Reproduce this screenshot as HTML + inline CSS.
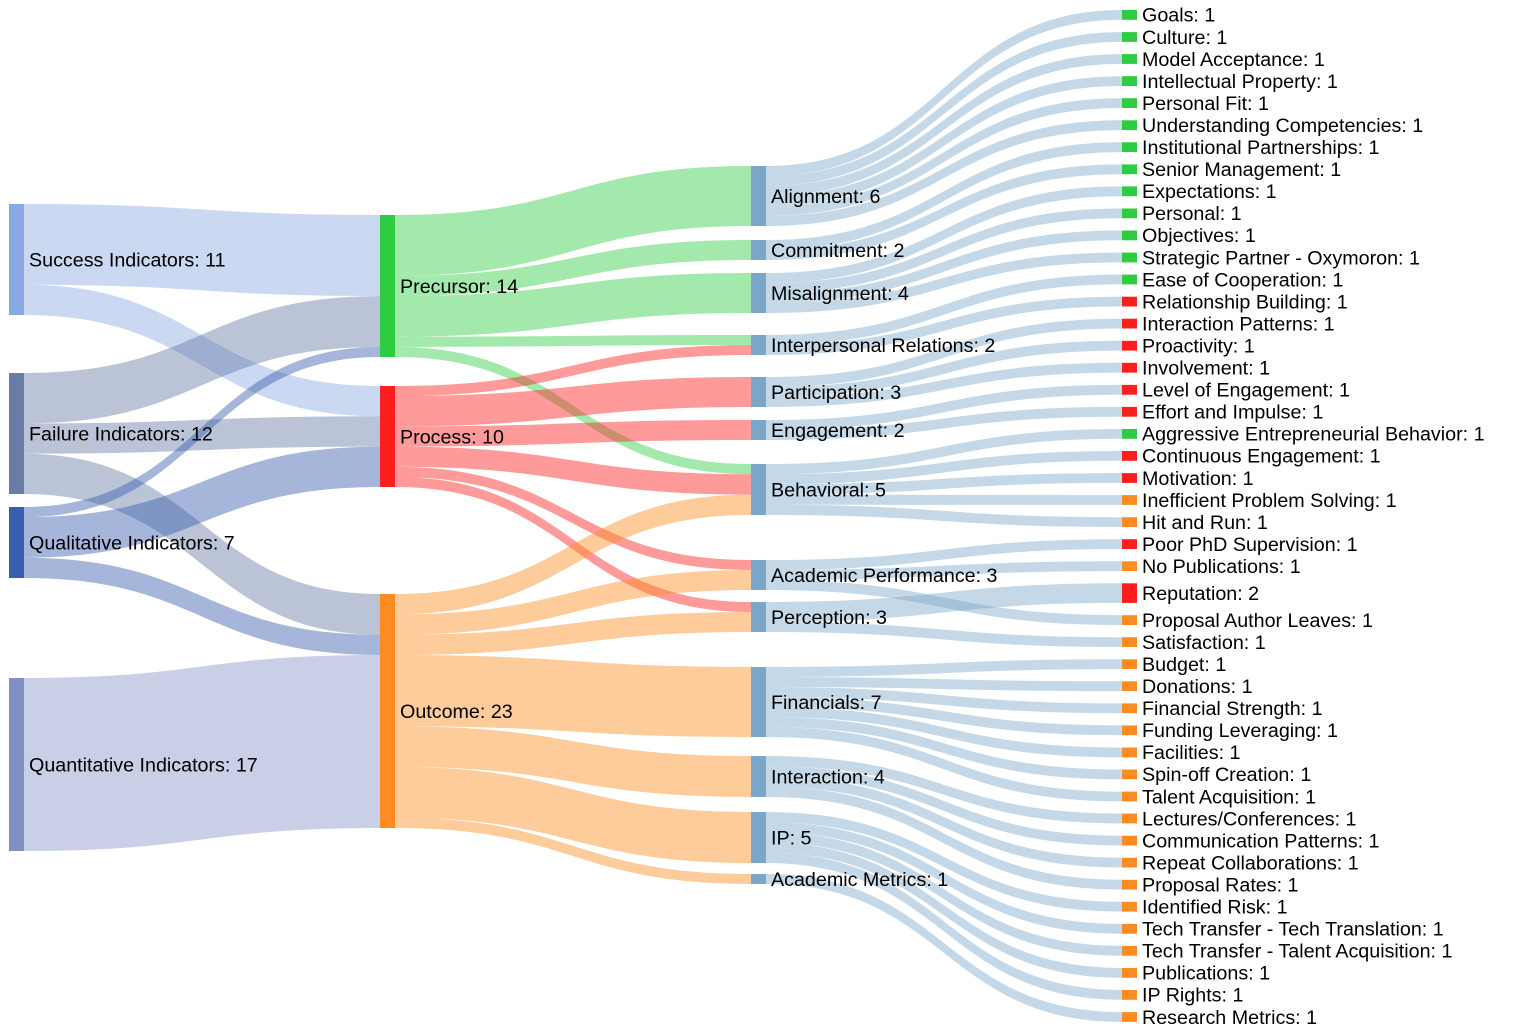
<!DOCTYPE html>
<html>
<head>
<meta charset="utf-8">
<style>
html,body{margin:0;padding:0;background:#fff;}
svg{display:block;}
text{font-family:"Liberation Sans",Arial,sans-serif;font-size:19.7px;fill:#000;}
</style>
</head>
<body>
<svg width="1516" height="1032" viewBox="0 0 1516 1032" xmlns="http://www.w3.org/2000/svg">
<rect width="1516" height="1032" fill="#fff"/>
<!-- Column 1 -> Column 2 links -->
<g>
<path fill="rgba(138,168,227,0.45)" d="M24 204C202 204 202 215 380 215L380 296.1C202 296.1 202 284.7 24 284.7Z"/>
<path fill="rgba(138,168,227,0.45)" d="M24 284.7C202 284.7 202 386 380 386L380 416.3C202 416.3 202 315 24 315Z"/>
<path fill="rgba(104,124,166,0.45)" d="M24 373C202 373 202 296.1 380 296.1L380 346.9C202 346.9 202 423.4 24 423.4Z"/>
<path fill="rgba(104,124,166,0.45)" d="M24 423.4C202 423.4 202 416.3 380 416.3L380 446.6C202 446.6 202 453.7 24 453.7Z"/>
<path fill="rgba(104,124,166,0.45)" d="M24 453.7C202 453.7 202 594 380 594L380 634.7C202 634.7 202 494 24 494Z"/>
<path fill="rgba(56,94,173,0.45)" d="M24 507C202 507 202 346.9 380 346.9L380 357C202 357 202 517.1 24 517.1Z"/>
<path fill="rgba(56,94,173,0.45)" d="M24 517.1C202 517.1 202 446.6 380 446.6L380 487C202 487 202 557.7 24 557.7Z"/>
<path fill="rgba(56,94,173,0.45)" d="M24 557.7C202 557.7 202 634.7 380 634.7L380 655C202 655 202 578 24 578Z"/>
<path fill="rgba(128,144,196,0.43)" d="M24 678C202 678 202 655 380 655L380 828C202 828 202 851 24 851Z"/>
</g>
<!-- Column 2 -> Column 3 links -->
<g>
<path fill="rgba(46,204,64,0.44)" d="M395 215C573 215 573 166 751 166L751 226C573 226 573 275.9 395 275.9Z"/>
<path fill="rgba(46,204,64,0.44)" d="M395 275.9C573 275.9 573 240 751 240L751 260C573 260 573 296.1 395 296.1Z"/>
<path fill="rgba(46,204,64,0.44)" d="M395 296.1C573 296.1 573 273 751 273L751 313C573 313 573 336.7 395 336.7Z"/>
<path fill="rgba(46,204,64,0.44)" d="M395 336.7C573 336.7 573 335 751 335L751 345C573 345 573 346.9 395 346.9Z"/>
<path fill="rgba(46,204,64,0.44)" d="M395 346.9C573 346.9 573 464 751 464L751 474.2C573 474.2 573 357 395 357Z"/>
<path fill="rgba(255,30,30,0.45)" d="M395 386C573 386 573 345 751 345L751 355C573 355 573 396.1 395 396.1Z"/>
<path fill="rgba(255,30,30,0.45)" d="M395 396.1C573 396.1 573 377 751 377L751 407C573 407 573 426.4 395 426.4Z"/>
<path fill="rgba(255,30,30,0.45)" d="M395 426.4C573 426.4 573 420 751 420L751 440C573 440 573 446.6 395 446.6Z"/>
<path fill="rgba(255,30,30,0.45)" d="M395 446.6C573 446.6 573 474.2 751 474.2L751 494.6C573 494.6 573 466.8 395 466.8Z"/>
<path fill="rgba(255,30,30,0.45)" d="M395 466.8C573 466.8 573 560 751 560L751 570C573 570 573 476.9 395 476.9Z"/>
<path fill="rgba(255,30,30,0.45)" d="M395 476.9C573 476.9 573 602 751 602L751 612C573 612 573 487 395 487Z"/>
<path fill="rgba(253,139,33,0.45)" d="M395 594C573 594 573 494.6 751 494.6L751 515C573 515 573 614.3 395 614.3Z"/>
<path fill="rgba(253,139,33,0.45)" d="M395 614.3C573 614.3 573 570 751 570L751 590C573 590 573 634.7 395 634.7Z"/>
<path fill="rgba(253,139,33,0.45)" d="M395 634.7C573 634.7 573 612 751 612L751 632C573 632 573 655 395 655Z"/>
<path fill="rgba(253,139,33,0.45)" d="M395 655C573 655 573 667 751 667L751 737C573 737 573 726.2 395 726.2Z"/>
<path fill="rgba(253,139,33,0.45)" d="M395 726.2C573 726.2 573 756 751 756L751 797C573 797 573 766.9 395 766.9Z"/>
<path fill="rgba(253,139,33,0.45)" d="M395 766.9C573 766.9 573 812 751 812L751 863C573 863 573 817.8 395 817.8Z"/>
<path fill="rgba(253,139,33,0.45)" d="M395 817.8C573 817.8 573 874 751 874L751 884C573 884 573 828 395 828Z"/>
</g>
<!-- Column 3 -> Column 4 links -->
<g fill="rgba(123,166,200,0.44)">
<path d="M766 166C944 166 944 10 1122 10L1122 19.8C944 19.8 944 176 766 176Z"/>
<path d="M766 176C944 176 944 32.1 1122 32.1L1122 41.9C944 41.9 944 186 766 186Z"/>
<path d="M766 186C944 186 944 54.1 1122 54.1L1122 63.9C944 63.9 944 196 766 196Z"/>
<path d="M766 196C944 196 944 76.2 1122 76.2L1122 86C944 86 944 206 766 206Z"/>
<path d="M766 206C944 206 944 98.2 1122 98.2L1122 108C944 108 944 216 766 216Z"/>
<path d="M766 216C944 216 944 120.3 1122 120.3L1122 130.1C944 130.1 944 226 766 226Z"/>
<path d="M766 240C944 240 944 142.3 1122 142.3L1122 152.1C944 152.1 944 250 766 250Z"/>
<path d="M766 250C944 250 944 164.4 1122 164.4L1122 174.2C944 174.2 944 260 766 260Z"/>
<path d="M766 273C944 273 944 186.4 1122 186.4L1122 196.2C944 196.2 944 283 766 283Z"/>
<path d="M766 283C944 283 944 208.5 1122 208.5L1122 218.3C944 218.3 944 293 766 293Z"/>
<path d="M766 293C944 293 944 230.5 1122 230.5L1122 240.3C944 240.3 944 303 766 303Z"/>
<path d="M766 303C944 303 944 252.6 1122 252.6L1122 262.4C944 262.4 944 313 766 313Z"/>
<path d="M766 335C944 335 944 274.6 1122 274.6L1122 284.4C944 284.4 944 345 766 345Z"/>
<path d="M766 345C944 345 944 296.7 1122 296.7L1122 306.5C944 306.5 944 355 766 355Z"/>
<path d="M766 377C944 377 944 318.7 1122 318.7L1122 328.5C944 328.5 944 387 766 387Z"/>
<path d="M766 387C944 387 944 340.8 1122 340.8L1122 350.6C944 350.6 944 397 766 397Z"/>
<path d="M766 397C944 397 944 362.8 1122 362.8L1122 372.6C944 372.6 944 407 766 407Z"/>
<path d="M766 420C944 420 944 384.9 1122 384.9L1122 394.7C944 394.7 944 430 766 430Z"/>
<path d="M766 430C944 430 944 406.9 1122 406.9L1122 416.7C944 416.7 944 440 766 440Z"/>
<path d="M766 464C944 464 944 429 1122 429L1122 438.8C944 438.8 944 474.2 766 474.2Z"/>
<path d="M766 474.2C944 474.2 944 451 1122 451L1122 460.8C944 460.8 944 484.4 766 484.4Z"/>
<path d="M766 484.4C944 484.4 944 473.1 1122 473.1L1122 482.9C944 482.9 944 494.6 766 494.6Z"/>
<path d="M766 494.6C944 494.6 944 495.1 1122 495.1L1122 504.9C944 504.9 944 504.8 766 504.8Z"/>
<path d="M766 504.8C944 504.8 944 517.2 1122 517.2L1122 527C944 527 944 515 766 515Z"/>
<path d="M766 560C944 560 944 539.2 1122 539.2L1122 549C944 549 944 570 766 570Z"/>
<path d="M766 570C944 570 944 561.3 1122 561.3L1122 571.1C944 571.1 944 580 766 580Z"/>
<path d="M766 580C944 580 944 615.2 1122 615.2L1122 625C944 625 944 590 766 590Z"/>
<path d="M766 602C944 602 944 583.3 1122 583.3L1122 602.9C944 602.9 944 622 766 622Z"/>
<path d="M766 622C944 622 944 637.2 1122 637.2L1122 647C944 647 944 632 766 632Z"/>
<path d="M766 667C944 667 944 659.3 1122 659.3L1122 669.1C944 669.1 944 677 766 677Z"/>
<path d="M766 677C944 677 944 681.3 1122 681.3L1122 691.1C944 691.1 944 687 766 687Z"/>
<path d="M766 687C944 687 944 703.4 1122 703.4L1122 713.2C944 713.2 944 697 766 697Z"/>
<path d="M766 697C944 697 944 725.4 1122 725.4L1122 735.2C944 735.2 944 707 766 707Z"/>
<path d="M766 707C944 707 944 747.5 1122 747.5L1122 757.3C944 757.3 944 717 766 717Z"/>
<path d="M766 717C944 717 944 769.5 1122 769.5L1122 779.3C944 779.3 944 727 766 727Z"/>
<path d="M766 727C944 727 944 791.6 1122 791.6L1122 801.4C944 801.4 944 737 766 737Z"/>
<path d="M766 756C944 756 944 813.6 1122 813.6L1122 823.4C944 823.4 944 766.3 766 766.3Z"/>
<path d="M766 766.3C944 766.3 944 835.7 1122 835.7L1122 845.5C944 845.5 944 776.5 766 776.5Z"/>
<path d="M766 776.5C944 776.5 944 857.7 1122 857.7L1122 867.5C944 867.5 944 786.8 766 786.8Z"/>
<path d="M766 786.8C944 786.8 944 879.8 1122 879.8L1122 889.6C944 889.6 944 797 766 797Z"/>
<path d="M766 812C944 812 944 901.8 1122 901.8L1122 911.6C944 911.6 944 822.2 766 822.2Z"/>
<path d="M766 822.2C944 822.2 944 923.9 1122 923.9L1122 933.7C944 933.7 944 832.4 766 832.4Z"/>
<path d="M766 832.4C944 832.4 944 945.9 1122 945.9L1122 955.7C944 955.7 944 842.6 766 842.6Z"/>
<path d="M766 842.6C944 842.6 944 968 1122 968L1122 977.8C944 977.8 944 852.8 766 852.8Z"/>
<path d="M766 852.8C944 852.8 944 990 1122 990L1122 999.8C944 999.8 944 863 766 863Z"/>
<path d="M766 874C944 874 944 1012.1 1122 1012.1L1122 1021.9C944 1021.9 944 884 766 884Z"/>
</g>
<!-- Column 1 nodes -->
<rect x="9" y="204" width="15" height="111" fill="#8aa8e3"/>
<rect x="9" y="373" width="15" height="121" fill="#687ca6"/>
<rect x="9" y="507" width="15" height="71" fill="#385ead"/>
<rect x="9" y="678" width="15" height="173" fill="#8090c4"/>
<!-- Column 2 nodes -->
<rect x="380" y="215" width="15" height="142" fill="#2ecc40"/>
<rect x="380" y="386" width="15" height="101" fill="#ff1e1e"/>
<rect x="380" y="594" width="15" height="234" fill="#fd8b21"/>
<!-- Column 3 nodes -->
<g fill="#7ba6c8">
<rect x="751" y="166" width="15" height="60"/>
<rect x="751" y="240" width="15" height="20"/>
<rect x="751" y="273" width="15" height="40"/>
<rect x="751" y="335" width="15" height="20"/>
<rect x="751" y="377" width="15" height="30"/>
<rect x="751" y="420" width="15" height="20"/>
<rect x="751" y="464" width="15" height="51"/>
<rect x="751" y="560" width="15" height="30"/>
<rect x="751" y="602" width="15" height="30"/>
<rect x="751" y="667" width="15" height="70"/>
<rect x="751" y="756" width="15" height="41"/>
<rect x="751" y="812" width="15" height="51"/>
<rect x="751" y="874" width="15" height="10"/>
</g>
<!-- Column 4 nodes -->
<g>
<rect x="1122" y="10" width="15" height="9.8" fill="#2ecc40"/>
<rect x="1122" y="32.1" width="15" height="9.8" fill="#2ecc40"/>
<rect x="1122" y="54.1" width="15" height="9.8" fill="#2ecc40"/>
<rect x="1122" y="76.2" width="15" height="9.8" fill="#2ecc40"/>
<rect x="1122" y="98.2" width="15" height="9.8" fill="#2ecc40"/>
<rect x="1122" y="120.3" width="15" height="9.8" fill="#2ecc40"/>
<rect x="1122" y="142.3" width="15" height="9.8" fill="#2ecc40"/>
<rect x="1122" y="164.4" width="15" height="9.8" fill="#2ecc40"/>
<rect x="1122" y="186.4" width="15" height="9.8" fill="#2ecc40"/>
<rect x="1122" y="208.5" width="15" height="9.8" fill="#2ecc40"/>
<rect x="1122" y="230.5" width="15" height="9.8" fill="#2ecc40"/>
<rect x="1122" y="252.6" width="15" height="9.8" fill="#2ecc40"/>
<rect x="1122" y="274.6" width="15" height="9.8" fill="#2ecc40"/>
<rect x="1122" y="296.7" width="15" height="9.8" fill="#ff1e1e"/>
<rect x="1122" y="318.7" width="15" height="9.8" fill="#ff1e1e"/>
<rect x="1122" y="340.8" width="15" height="9.8" fill="#ff1e1e"/>
<rect x="1122" y="362.8" width="15" height="9.8" fill="#ff1e1e"/>
<rect x="1122" y="384.9" width="15" height="9.8" fill="#ff1e1e"/>
<rect x="1122" y="406.9" width="15" height="9.8" fill="#ff1e1e"/>
<rect x="1122" y="429" width="15" height="9.8" fill="#2ecc40"/>
<rect x="1122" y="451" width="15" height="9.8" fill="#ff1e1e"/>
<rect x="1122" y="473.1" width="15" height="9.8" fill="#ff1e1e"/>
<rect x="1122" y="495.1" width="15" height="9.8" fill="#fd8b21"/>
<rect x="1122" y="517.2" width="15" height="9.8" fill="#fd8b21"/>
<rect x="1122" y="539.2" width="15" height="9.8" fill="#ff1e1e"/>
<rect x="1122" y="561.3" width="15" height="9.8" fill="#fd8b21"/>
<rect x="1122" y="583.3" width="15" height="19.6" fill="#ff1e1e"/>
<rect x="1122" y="615.2" width="15" height="9.8" fill="#fd8b21"/>
<rect x="1122" y="637.2" width="15" height="9.8" fill="#fd8b21"/>
<rect x="1122" y="659.3" width="15" height="9.8" fill="#fd8b21"/>
<rect x="1122" y="681.3" width="15" height="9.8" fill="#fd8b21"/>
<rect x="1122" y="703.4" width="15" height="9.8" fill="#fd8b21"/>
<rect x="1122" y="725.4" width="15" height="9.8" fill="#fd8b21"/>
<rect x="1122" y="747.5" width="15" height="9.8" fill="#fd8b21"/>
<rect x="1122" y="769.5" width="15" height="9.8" fill="#fd8b21"/>
<rect x="1122" y="791.6" width="15" height="9.8" fill="#fd8b21"/>
<rect x="1122" y="813.6" width="15" height="9.8" fill="#fd8b21"/>
<rect x="1122" y="835.7" width="15" height="9.8" fill="#fd8b21"/>
<rect x="1122" y="857.7" width="15" height="9.8" fill="#fd8b21"/>
<rect x="1122" y="879.8" width="15" height="9.8" fill="#fd8b21"/>
<rect x="1122" y="901.8" width="15" height="9.8" fill="#fd8b21"/>
<rect x="1122" y="923.9" width="15" height="9.8" fill="#fd8b21"/>
<rect x="1122" y="945.9" width="15" height="9.8" fill="#fd8b21"/>
<rect x="1122" y="968" width="15" height="9.8" fill="#fd8b21"/>
<rect x="1122" y="990" width="15" height="9.8" fill="#fd8b21"/>
<rect x="1122" y="1012.1" width="15" height="9.8" fill="#fd8b21"/>
</g>
<!-- Labels column 1 -->
<text x="29" y="266.5">Success Indicators: 11</text>
<text x="29" y="440.5">Failure Indicators: 12</text>
<text x="29" y="549.5">Qualitative Indicators: 7</text>
<text x="29" y="771.5">Quantitative Indicators: 17</text>
<!-- Labels column 2 -->
<text x="400" y="293">Precursor: 14</text>
<text x="400" y="443.5">Process: 10</text>
<text x="400" y="718">Outcome: 23</text>
<!-- Labels column 3 -->
<text x="771" y="203">Alignment: 6</text>
<text x="771" y="257">Commitment: 2</text>
<text x="771" y="300">Misalignment: 4</text>
<text x="771" y="352">Interpersonal Relations: 2</text>
<text x="771" y="399">Participation: 3</text>
<text x="771" y="437">Engagement: 2</text>
<text x="771" y="496.5">Behavioral: 5</text>
<text x="771" y="582">Academic Performance: 3</text>
<text x="771" y="624">Perception: 3</text>
<text x="771" y="709">Financials: 7</text>
<text x="771" y="783.5">Interaction: 4</text>
<text x="771" y="844.5">IP: 5</text>
<text x="771" y="886">Academic Metrics: 1</text>
<!-- Labels column 4 -->
<text x="1142" y="21.7">Goals: 1</text>
<text x="1142" y="43.8">Culture: 1</text>
<text x="1142" y="65.8">Model Acceptance: 1</text>
<text x="1142" y="87.9">Intellectual Property: 1</text>
<text x="1142" y="109.9">Personal Fit: 1</text>
<text x="1142" y="132">Understanding Competencies: 1</text>
<text x="1142" y="154">Institutional Partnerships: 1</text>
<text x="1142" y="176.1">Senior Management: 1</text>
<text x="1142" y="198.1">Expectations: 1</text>
<text x="1142" y="220.2">Personal: 1</text>
<text x="1142" y="242.2">Objectives: 1</text>
<text x="1142" y="264.3">Strategic Partner - Oxymoron: 1</text>
<text x="1142" y="286.3">Ease of Cooperation: 1</text>
<text x="1142" y="308.4">Relationship Building: 1</text>
<text x="1142" y="330.4">Interaction Patterns: 1</text>
<text x="1142" y="352.5">Proactivity: 1</text>
<text x="1142" y="374.5">Involvement: 1</text>
<text x="1142" y="396.6">Level of Engagement: 1</text>
<text x="1142" y="418.6">Effort and Impulse: 1</text>
<text x="1142" y="440.7">Aggressive Entrepreneurial Behavior: 1</text>
<text x="1142" y="462.7">Continuous Engagement: 1</text>
<text x="1142" y="484.8">Motivation: 1</text>
<text x="1142" y="506.8">Inefficient Problem Solving: 1</text>
<text x="1142" y="528.9">Hit and Run: 1</text>
<text x="1142" y="550.9">Poor PhD Supervision: 1</text>
<text x="1142" y="573">No Publications: 1</text>
<text x="1142" y="599.9">Reputation: 2</text>
<text x="1142" y="626.9">Proposal Author Leaves: 1</text>
<text x="1142" y="648.9">Satisfaction: 1</text>
<text x="1142" y="671">Budget: 1</text>
<text x="1142" y="693">Donations: 1</text>
<text x="1142" y="715.1">Financial Strength: 1</text>
<text x="1142" y="737.1">Funding Leveraging: 1</text>
<text x="1142" y="759.2">Facilities: 1</text>
<text x="1142" y="781.2">Spin-off Creation: 1</text>
<text x="1142" y="803.3">Talent Acquisition: 1</text>
<text x="1142" y="825.3">Lectures/Conferences: 1</text>
<text x="1142" y="847.4">Communication Patterns: 1</text>
<text x="1142" y="869.4">Repeat Collaborations: 1</text>
<text x="1142" y="891.5">Proposal Rates: 1</text>
<text x="1142" y="913.5">Identified Risk: 1</text>
<text x="1142" y="935.6">Tech Transfer - Tech Translation: 1</text>
<text x="1142" y="957.6">Tech Transfer - Talent Acquisition: 1</text>
<text x="1142" y="979.7">Publications: 1</text>
<text x="1142" y="1001.7">IP Rights: 1</text>
<text x="1142" y="1023.8">Research Metrics: 1</text>
</svg>
</body>
</html>
